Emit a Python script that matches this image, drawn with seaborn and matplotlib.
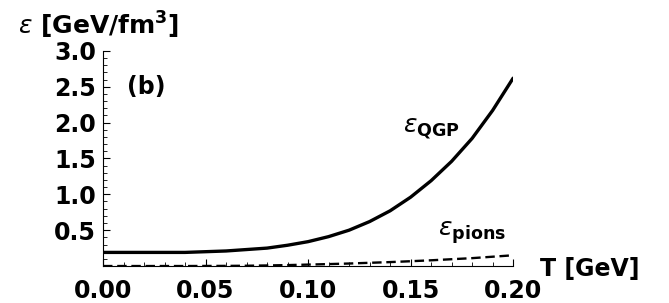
import pandas as pd
import matplotlib.pyplot as plt
import matplotlib.ticker as mticker
import seaborn as sns

# temperature grid (GeV) and energy densities (GeV/fm^3)
temperature = [0.00, 0.01, 0.02, 0.03, 0.04, 0.05, 0.06, 0.07, 0.08, 0.09, 0.10,
               0.11, 0.12, 0.13, 0.14, 0.15, 0.16, 0.17, 0.18, 0.19, 0.20]
eps_qgp = [0.19, 0.19, 0.19, 0.19, 0.19, 0.20, 0.21, 0.23, 0.25, 0.29, 0.34,
           0.41, 0.50, 0.62, 0.77, 0.96, 1.19, 1.46, 1.78, 2.17, 2.62]
eps_pions = [0.0, 0.0, 0.0, 0.0, 0.0, 0.001, 0.002, 0.004, 0.008, 0.013, 0.02,
             0.027, 0.035, 0.045, 0.055, 0.067, 0.08, 0.095, 0.11, 0.13, 0.15]

x_ticks = [0.00, 0.05, 0.10, 0.15, 0.20]
y_ticks = [0.5, 1.0, 1.5, 2.0, 2.5, 3.0]

df = pd.DataFrame({"T": temperature, "qgp": eps_qgp, "pions": eps_pions})

sns.set_style("ticks", {"axes.edgecolor": "black", "text.color": "black",
                        "xtick.color": "black", "ytick.color": "black"})
plt.rcParams["font.family"] = ["DejaVu Sans"]
plt.rcParams["mathtext.fontset"] = "dejavusans"

fig = plt.figure(figsize=(6.69, 3.03), dpi=100)
ax = fig.add_axes([0.154, 0.122, 0.613, 0.71])

# solid QGP curve, dashed pion gas curve
sns.lineplot(data=df, x="T", y="qgp", ax=ax, color="black", linewidth=2.4)
sns.lineplot(data=df, x="T", y="pions", ax=ax, color="black", linewidth=1.7,
             linestyle=(0, (4, 2)))

ax.set_xlim(0, 0.2)
ax.set_ylim(0, 3.0)
ax.set_xticks(x_ticks)
ax.set_yticks(y_ticks)
ax.xaxis.set_major_formatter(mticker.FormatStrFormatter("%.2f"))
ax.yaxis.set_major_formatter(mticker.FormatStrFormatter("%.1f"))
ax.xaxis.set_minor_locator(mticker.MultipleLocator(0.01))
ax.yaxis.set_minor_locator(mticker.MultipleLocator(0.1))
ax.tick_params(which="major", direction="in", length=5, width=0.8)
ax.tick_params(which="minor", direction="in", length=3, width=0.6)
ax.tick_params(axis="x", which="major", pad=9, labelsize=17)
ax.tick_params(axis="y", which="major", pad=5, labelsize=17)
for lab in ax.get_xticklabels() + ax.get_yticklabels():
    lab.set_fontweight("bold")

ax.set_xlabel("")
ax.set_ylabel("")
sns.despine(ax=ax)
for s in ["left", "bottom"]:
    ax.spines[s].set_linewidth(0.8)

# annotations
ax.text(0.021, 2.49, "(b)", fontsize=17, fontweight="bold", ha="center", va="center")
ax.text(0.160, 1.92, r"$\varepsilon_{\mathbf{QGP}}$", fontsize=18, ha="center", va="center")
ax.text(0.180, 0.47, r"$\varepsilon_{\mathbf{pions}}$", fontsize=18, ha="center", va="center")

fig.text(540 / 669, 1 - 269 / 303, "T [GeV]", fontsize=17, fontweight="bold",
         ha="left", va="center")
fig.text(18 / 669, 1 - 25 / 303, r"$\varepsilon$ [GeV/fm$^{\mathbf{3}}$]",
         fontsize=18, fontweight="bold", ha="left", va="center")

fig.savefig("out.png", dpi=100)
